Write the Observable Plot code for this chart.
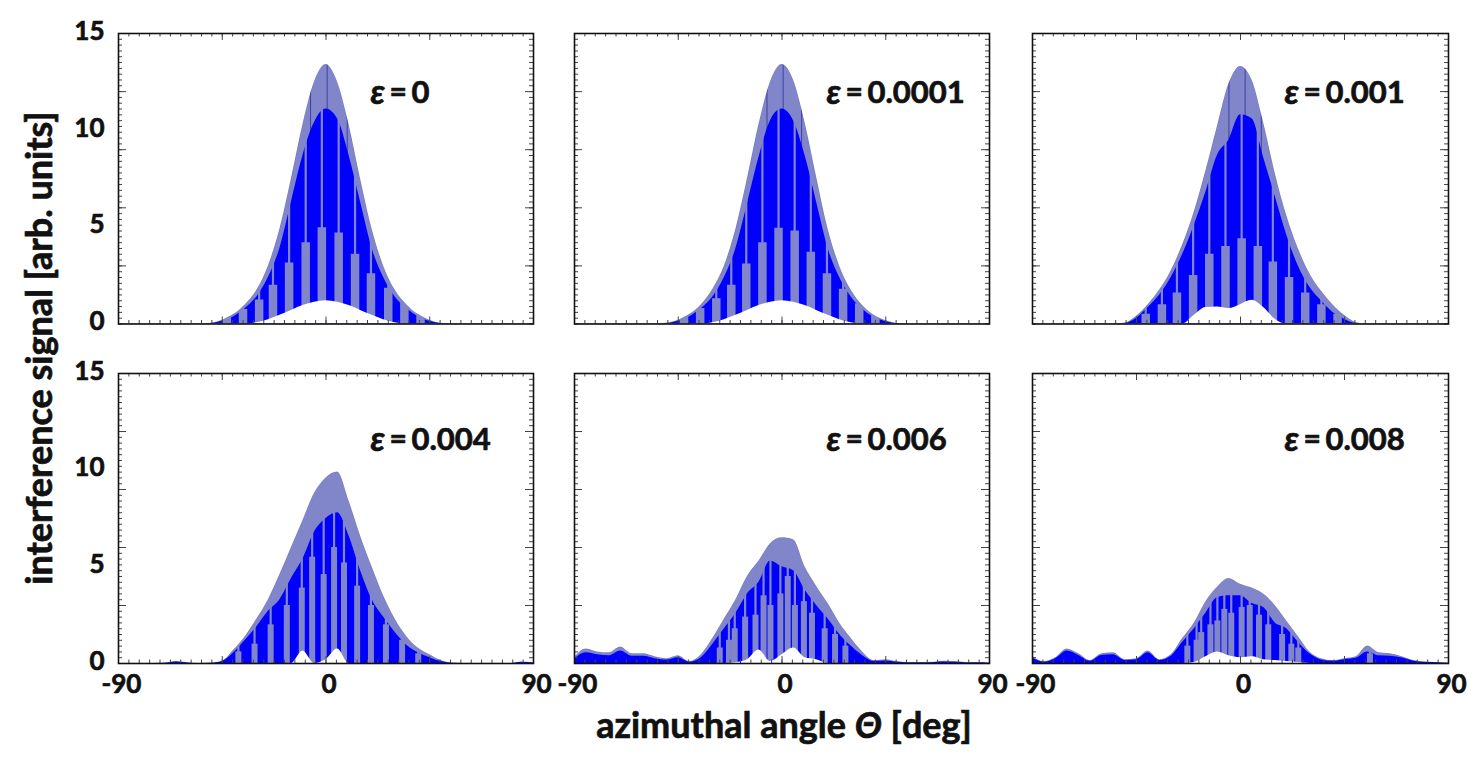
<!DOCTYPE html>
<html><head><meta charset="utf-8">
<script src="https://cdn.jsdelivr.net/npm/d3@7"></script>
<script src="https://cdn.jsdelivr.net/npm/@observablehq/plot@0.6"></script>
<style>
body{margin:0;background:#fff;}
#wrap{position:relative;width:1480px;height:770px;background:#fff;font-family:Lato,'Noto Sans',sans-serif;color:#111;overflow:hidden;}
.panel{position:absolute;}
.title{position:absolute;font-weight:bold;font-size:36px;line-height:40px;height:40px;width:600px;text-align:center;white-space:nowrap;-webkit-text-stroke:0.7px #111;}
</style></head><body><div id="wrap"></div>
<script>
// azimuthal angle grid (deg)
const angle = [-90,-85,-80,-75,-70,-65,-60,-55,-50,-45,-40,-35,-30,-25,-20,-15,-10,-5,0,5,10,15,20,25,30,35,40,45,50,55,60,65,70,75,80,85,90];

const epsLabels = ["0","0.0001","0.001","0.004","0.006","0.008"];
const xLabels = [-90, 0, 90];
const yLabels = [0, 5, 10, 15];
const xMajor = [-45, 0, 45];
const yMajor = [3, 6, 9, 12];

// eps = 0
const upper1 = [0,0,0,0,0,0,0,0,0.04,0.2,0.5,1.0,1.75,3.0,4.9,7.5,10.3,12.5,13.4,12.5,10.3,7.5,4.9,3.0,1.75,1.0,0.5,0.2,0.04,0,0,0,0,0,0,0,0];
const blue1  = [0,0,0,0,0,0,0,0,0.02,0.14,0.38,0.8,1.4,2.4,3.9,6.3,8.7,10.4,11.1,10.6,8.7,6.3,3.9,2.4,1.4,0.8,0.38,0.14,0.02,0,0,0,0,0,0,0,0];
const low1   = [0,0,0,0,0,0,0,0,0,0,0,0,0.07,0.22,0.45,0.7,0.95,1.12,1.2,1.12,0.95,0.7,0.45,0.22,0.07,0,0,0,0,0,0,0,0,0,0,0,0];
const stripeX1 = [-43,-36,-29,-23,-16,-8.8,-1.8,5.5,12.6,19.5,27,34,41];
const stripeTop1 = [0.35,0.75,1.24,2.0,3.15,4.2,4.97,4.7,3.6,2.6,1.85,1.1,0.5];
const darkX1 = [-6.7, 0.5, 9.2];

// eps = 0.0001
const upper2 = [0,0,0,0,0,0,0,0,0.05,0.2,0.5,1.0,1.8,3.0,4.9,7.5,10.3,12.5,13.4,12.6,10.4,7.6,4.9,3.0,1.75,0.95,0.45,0.18,0.03,0,0,0,0,0,0,0,0];
const blue2  = [0,0,0,0,0,0,0,0,0.02,0.14,0.38,0.8,1.4,2.4,3.9,6.2,8.6,10.5,11.1,10.5,8.7,6.3,3.9,2.4,1.4,0.75,0.35,0.12,0.02,0,0,0,0,0,0,0,0];
const low2   = [0,0,0,0,0,0,0,0,0,0,0,0,0.07,0.22,0.45,0.7,0.95,1.12,1.2,1.12,0.95,0.7,0.45,0.22,0.07,0,0,0,0,0,0,0,0,0,0,0,0];
const stripeX2 = [-42.5,-35.5,-28.5,-22,-15.5,-8.5,-1.5,5.5,12.5,19.5,26.5,33.5,40.5];
const stripeTop2 = [0.35,0.8,1.3,2.0,3.1,4.2,4.95,4.8,3.7,2.6,1.8,1.05,0.5];
const darkX2 = [-6.5, 0.5, 8.5];

// eps = 0.001
const upper3 = [0,0,0,0,0,0,0,0,0.05,0.4,1.0,1.75,2.75,4.1,5.8,7.9,10.2,12.4,13.3,12.6,10.4,7.8,5.6,3.9,2.6,1.7,1.0,0.45,0.08,0,0,0,0,0,0,0,0];
const blue3  = [0,0,0,0,0,0,0,0,0.02,0.3,0.85,1.5,2.4,3.6,5.1,6.8,8.7,9.5,10.8,10.6,8.6,6.6,4.6,3.0,1.9,1.2,0.6,0.25,0.03,0,0,0,0,0,0,0,0];
const low3   = [0,0,0,0,0,0,0,0,0,0,0,0,0,0,0.45,0.85,0.88,0.8,1.0,1.22,0.85,0.25,0,0,0,0,0,0,0,0,0,0,0,0,0,0,0];
const stripeX3 = [-41,-34,-27.5,-20.5,-13.5,-6.5,0.5,7.5,14,21,28,35,42];
const stripeTop3 = [0.5,1.0,1.6,2.5,3.6,4.0,4.4,4.0,3.2,2.4,1.6,1.0,0.5];
const darkX3 = [-5, 2, 9];

// eps = 0.004
const upper4 = [0,0,0,0,0.02,0.1,0.04,0,0.02,0.12,0.7,1.4,2.3,3.3,4.6,6.0,7.4,8.8,9.6,9.9,8.4,6.6,5.0,3.5,2.3,1.4,0.8,0.45,0.15,0.02,0,0,0,0,0,0.08,0.04];
const blue4  = [0,0,0,0,0.01,0.08,0.03,0,0.01,0.1,0.55,1.2,1.9,2.7,3.3,4.4,5.4,6.8,7.5,7.8,6.6,4.8,3.3,2.4,1.6,0.95,0.55,0.3,0.1,0.01,0,0,0,0,0,0.06,0.03];
const low4   = [0,0,0,0,0,0,0,0,0,0,0,0,0,0,0,0,0.65,0,0.2,0.75,0,0,0,0,0,0,0,0,0,0,0,0,0,0,0,0,0];
const stripeX4 = [-38,-31,-24,-17,-10.5,-6,-1,3.5,7.8,13.5,19.5,26,33,40];
const stripeTop4 = [0.6,1.0,2.0,3.0,3.9,5.5,4.6,6.0,5.2,4.0,3.0,2.0,1.2,0.5];
const darkX4 = [];

// eps = 0.006
const upper5 = [0.3,0.75,0.6,0.55,0.85,0.5,0.5,0.35,0.25,0.4,0.1,0.45,1.3,2.3,3.3,4.5,5.3,6.2,6.5,6.4,5.0,4.0,3.1,2.1,1.3,0.6,0.15,0.2,0.1,0.05,0.05,0.06,0.12,0.1,0.05,0.05,0.03];
const blue5  = [0.22,0.55,0.45,0.4,0.65,0.38,0.38,0.25,0.18,0.3,0.07,0.3,1.0,1.8,2.6,3.6,4.2,5.3,5.0,4.8,3.8,3.0,2.3,1.5,0.9,0.4,0.1,0.13,0.06,0.03,0.03,0.04,0.08,0.06,0.03,0.03,0.02];
const low5   = [0,0,0,0,0,0,0,0,0,0,0,0,0,0,0.05,0.2,0.7,0.1,0.45,0.8,0.3,0.2,0,0,0,0,0,0,0,0,0,0,0,0,0,0,0];
const stripeX5 = [-27,-23,-20.5,-16,-11.5,-8,-5,-0.7,2.5,5.6,9.5,13,18.5,23,27.5];
const stripeTop5 = [0.8,1.2,1.8,2.4,2.5,3.5,3.0,3.6,4.5,3.0,3.2,2.6,1.8,1.5,0.9];
const darkX5 = [];

// eps = 0.008
const upper6 = [0.35,0.1,0.3,0.75,0.5,0.15,0.5,0.55,0.2,0.25,0.65,0.2,0.45,1.3,2.1,3.2,3.95,4.4,4.1,3.9,3.6,3.0,2.2,1.4,0.6,0.25,0.15,0.25,0.35,0.9,0.55,0.5,0.35,0.15,0.08,0.05,0.02];
const blue6  = [0.28,0.07,0.25,0.65,0.42,0.12,0.42,0.45,0.16,0.2,0.55,0.16,0.38,1.1,1.8,2.6,3.4,3.5,3.5,3.1,2.9,2.1,1.8,1.1,0.5,0.18,0.11,0.2,0.27,0.6,0.4,0.38,0.28,0.12,0.06,0.04,0.01];
const low6   = [0,0,0,0,0,0,0,0,0,0,0,0,0,0,0.05,0.35,0.6,0.4,0.3,0.35,0.2,0.15,0.1,0.05,0,0,0,0,0,0,0,0,0,0,0,0,0];
const stripeX6 = [-23,-19,-17,-13,-10,-7,-4,0.5,4,8,12,18,22,25,56];
const stripeTop6 = [0.9,1.2,1.6,2.0,2.2,2.8,2.6,2.9,3.0,2.5,2.0,1.5,1.0,0.8,0.5];
const darkX6 = [];

const uppers = [upper1,upper2,upper3,upper4,upper5,upper6];
const blues = [blue1,blue2,blue3,blue4,blue5,blue6];
const lows = [low1,low2,low3,low4,low5,low6];
const stripeXs = [stripeX1,stripeX2,stripeX3,stripeX4,stripeX5,stripeX6];
const stripeTops = [stripeTop1,stripeTop2,stripeTop3,stripeTop4,stripeTop5,stripeTop6];
const darkXs = [darkX1,darkX2,darkX3,darkX4,darkX5,darkX6];

const LIGHT = "#8185c9", BLUE = "#0000fc";
const colLeft = [118, 574, 1032], colRight = [533, 989, 1448];
const rowTop = [33, 373], rowBottom = [323.5, 663];
const xMinor = d3.range(-90, 90.01, 4.5);
const yMinor = d3.range(0, 15.01, 0.3);
const FONT = "Lato, 'Noto Sans', sans-serif";
const INK = "#111";

const wrap = document.getElementById("wrap");

for (let i = 0; i < 6; i++) {
  const r = Math.floor(i / 3), c = i % 3;
  const L = colLeft[c], R = colRight[c], T = rowTop[r], B = rowBottom[r];
  const mL = c === 0 ? 80 : 2, mR = 2, mT = 2, mB = r === 1 ? 45 : 2;
  const W = R - L, H = B - T;
  const rows = angle.map((a, k) => ({a, u: uppers[i][k], b: blues[i][k], l: lows[i][k]}));
  const stripes = stripeXs[i].map((x, k) => ({x, top: stripeTops[i][k]}));
  const thin = i >= 3 ? 2.2 : 2.2;
  const wide = i >= 3 ? 6 : 8.5;
  const tickStroke = "#444";
  const ly = r === 0 ? 47 : 54;
  const txt = {frameAnchor: "top-left", textAnchor: "start", lineAnchor: "top", fontFamily: FONT, fontWeight: "bold", fill: INK, stroke: INK, strokeWidth: 0.7};
  const marks = [
    Plot.areaY(rows, {x: "a", y1: 0, y2: "u", fill: LIGHT, stroke: "#6f73bb", strokeWidth: 0.8, curve: "monotone-x", clip: true}),
    Plot.ruleX(darkXs[i], {x: d => d, y1: 0, y2: 15, stroke: "#3c40a6", strokeWidth: 1, clip: true}),
    Plot.areaY(rows, {x: "a", y1: 0, y2: "b", fill: BLUE, curve: "monotone-x", clip: true}),
    Plot.ruleX(stripes, {x: "x", y1: 0, y2: 15, stroke: LIGHT, strokeWidth: thin, clip: true}),
    Plot.ruleX(stripes, {x: "x", y1: 0, y2: "top", stroke: LIGHT, strokeWidth: wide, clip: true}),
    Plot.areaY(rows, {x: "a", y1: "u", y2: 15, fill: "white", curve: "monotone-x", clip: true}),
    Plot.areaY(rows, {x: "a", y1: 0, y2: "l", fill: "white", curve: "monotone-x", clip: true}),
    // inner ticks on all four sides
    Plot.tickX(xMinor, {x: d => d, insetTop: H - 3.5, stroke: tickStroke}),
    Plot.tickX(xMajor, {x: d => d, insetTop: H - 7, stroke: tickStroke}),
    Plot.tickX(xMinor, {x: d => d, insetBottom: H - 3.5, stroke: tickStroke}),
    Plot.tickX(xMajor, {x: d => d, insetBottom: H - 7, stroke: tickStroke}),
    Plot.tickY(yMinor, {y: d => d, insetRight: W - 4, stroke: tickStroke}),
    Plot.tickY(yMajor, {y: d => d, insetRight: W - 8, stroke: tickStroke}),
    Plot.tickY(yMinor, {y: d => d, insetLeft: W - 4, stroke: tickStroke}),
    Plot.tickY(yMajor, {y: d => d, insetLeft: W - 8, stroke: tickStroke}),
    Plot.frame({stroke: INK, strokeWidth: 1.6}),
    Plot.text(["ε"], {...txt, text: d => d, dx: 252, dy: ly - 1, fontSize: 34, fontStyle: "italic"}),
    Plot.text(["="], {...txt, text: d => d, dx: 271, dy: ly, fontSize: 30}),
    Plot.text([epsLabels[i]], {...txt, text: d => d, dx: 293, dy: ly, fontSize: 31})
  ];
  if (c === 0) marks.push(Plot.axisY(yLabels, {anchor: "left", tickSize: 0, tickPadding: 14, dy: -2, tickFormat: d => String(d), label: null, fontSize: 26, fontWeight: "bold", textStroke: INK, textStrokeWidth: 0.7, textStrokeOpacity: 1}));
  else marks.push(Plot.axisY([], {anchor: "left", tickSize: 0, label: null}));
  if (r === 1) marks.push(Plot.axisX(xLabels, {anchor: "bottom", tickSize: 0, tickPadding: 11, dx: 3, tickFormat: d => String(d), label: null, fontSize: 26, fontWeight: "bold", textStroke: INK, textStrokeWidth: 0.7, textStrokeOpacity: 1}));
  else marks.push(Plot.axisX([], {anchor: "bottom", tickSize: 0, label: null}));
  const svg = Plot.plot({
    width: W + mL + mR, height: H + mT + mB,
    marginLeft: mL, marginRight: mR, marginTop: mT, marginBottom: mB,
    x: {domain: [-90, 90], label: null},
    y: {domain: [0, 15], label: null},
    style: {fontFamily: FONT, fontSize: "26px", fontWeight: "bold", color: INK, overflow: "visible", background: "transparent"},
    marks
  });
  svg.classList.add("panel");
  svg.style.left = (L - mL) + "px";
  svg.style.top = (T - mT) + "px";
  svg.style.maxWidth = "none";
  wrap.appendChild(svg);
}

const xt = document.createElement("div");
xt.className = "title";
xt.style.left = "484px"; xt.style.top = "704px";
xt.innerHTML = 'azimuthal angle <i>Θ</i> [deg]';
wrap.appendChild(xt);

const yt = document.createElement("div");
yt.className = "title";
yt.style.left = (38 - 300) + "px"; yt.style.top = (348 - 20) + "px";
yt.style.transform = "rotate(-90deg)";
yt.textContent = "interference signal [arb. units]";
wrap.appendChild(yt);
</script></body></html>
